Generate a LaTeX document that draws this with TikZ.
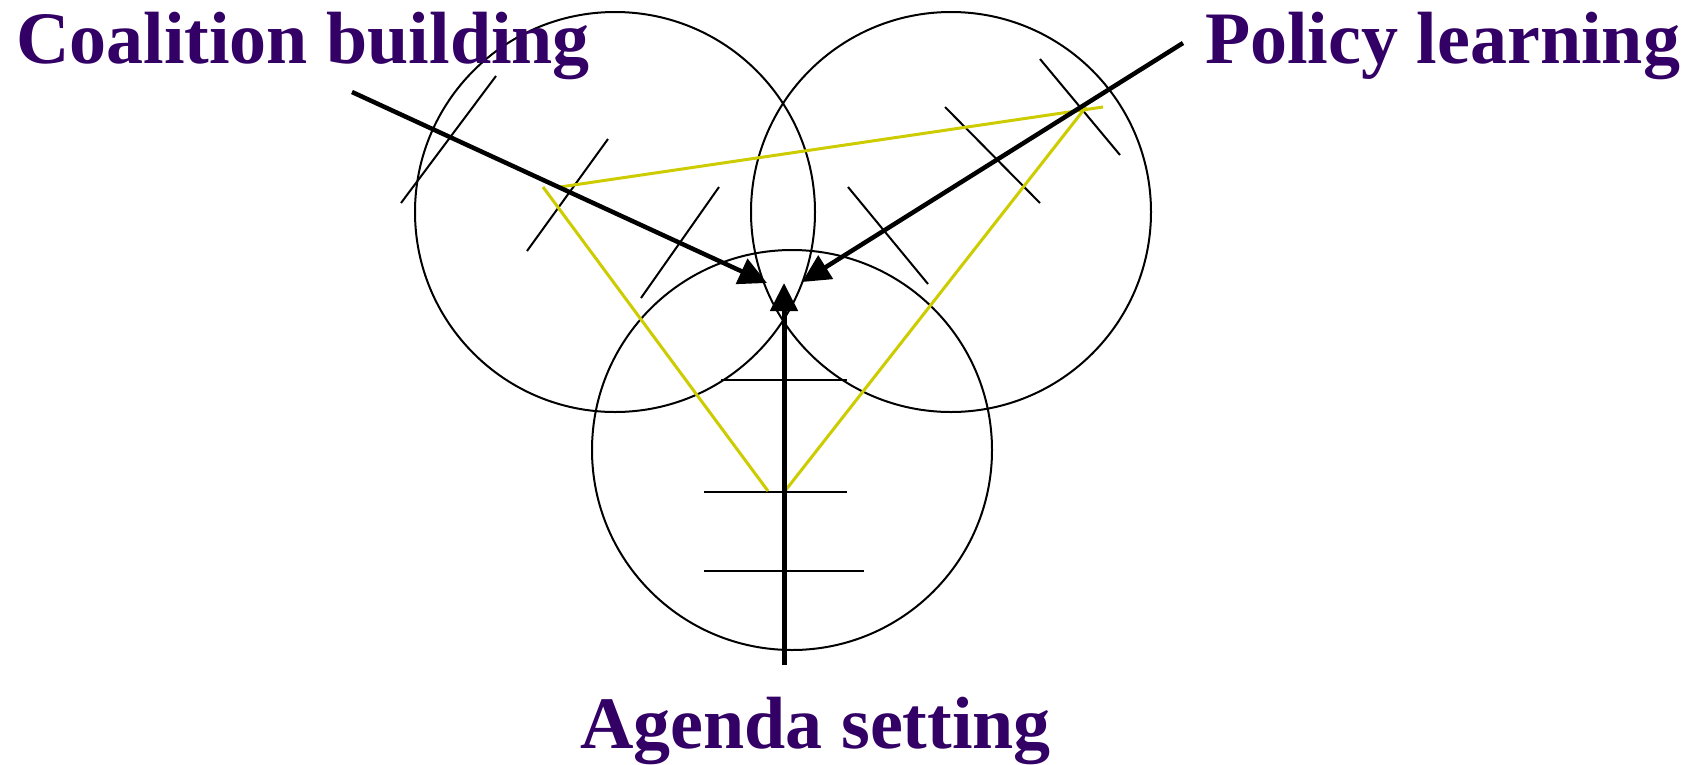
\documentclass[tikz,border=0pt]{standalone}
\usepackage{fontspec}
\setmainfont{Liberation Serif}
\usepackage{xcolor}
\usepackage{tikz}
\usetikzlibrary{arrows.meta}
\definecolor{Plum}{HTML}{330066}
\definecolor{Olive}{HTML}{CCCC00}

\begin{document}
\begin{tikzpicture}[
  x=1pt,y=-1pt,
  sphere/.style={draw=black,line width=2pt,circle,minimum size=400pt,inner sep=0pt},
  hatch/.style={draw=black,line width=2pt},
  rung/.style={draw=black,line width=2.8pt},
  link/.style={draw=Olive,line width=3pt},
  pull/.style={-{Triangle[length=28pt,width=27pt]},line width=4.5pt,draw=black},
  title/.style={text=Plum,font=\fontsize{74}{80}\selectfont\bfseries,inner sep=0pt,anchor=base west}
]
\useasboundingbox (0,0) rectangle (1698,764);
\node[sphere] (coalition) at (615,212) {};
\node[sphere] (learning) at (951,212) {};
\node[sphere] (agenda) at (792,450) {};
\node[title] (coalitionlabel) at (16,63) {Coalition building};
\node[title] (learninglabel) at (1205,63) {Policy learning};
\node[title] (agendalabel) at (580,748) {Agenda setting};
\coordinate (coalitionstart) at (352,92);
\coordinate (learningstart) at (1183,43);
\coordinate (agendastart) at (784,665);
\coordinate (coalitiontip) at (767,283);
\coordinate (learningtip) at (802,282);
\coordinate (agendatip) at (784,283);
\coordinate (coalitionA) at (560,187);
\coordinate (coalitionB) at (543,187);
\coordinate (learningA) at (1103,107);
\coordinate (learningB) at (1086,107);
\coordinate (agendaA) at (768,491);
\coordinate (agendaB) at (785,491);
% hatching in the left circle
\draw[hatch] (401,203) -- (496,76);
\draw[hatch] (527,251) -- (608,139);
\draw[hatch] (641,298) -- (719,187);
% hatching in the right circle
\draw[hatch] (848,187) -- (928,284);
\draw[hatch] (945,107) -- (1040,203);
\draw[hatch] (1040,59) -- (1120,155);
% rungs on the vertical
\draw[rung] (721,380) -- (847,380);
\draw[rung] (704,492) -- (847,492);
\draw[rung] (704,571) -- (864,571);
\draw[link] (coalitionA) -- (learningA);
\draw[link] (coalitionB) -- (agendaA);
\draw[link] (agendaB) -- (learningB);
\draw[pull] (coalitionstart) -- (coalitiontip);
\draw[pull] (learningstart) -- (learningtip);
\draw[pull,line width=5pt] (agendastart) -- (agendatip);
\end{tikzpicture}
\end{document}
